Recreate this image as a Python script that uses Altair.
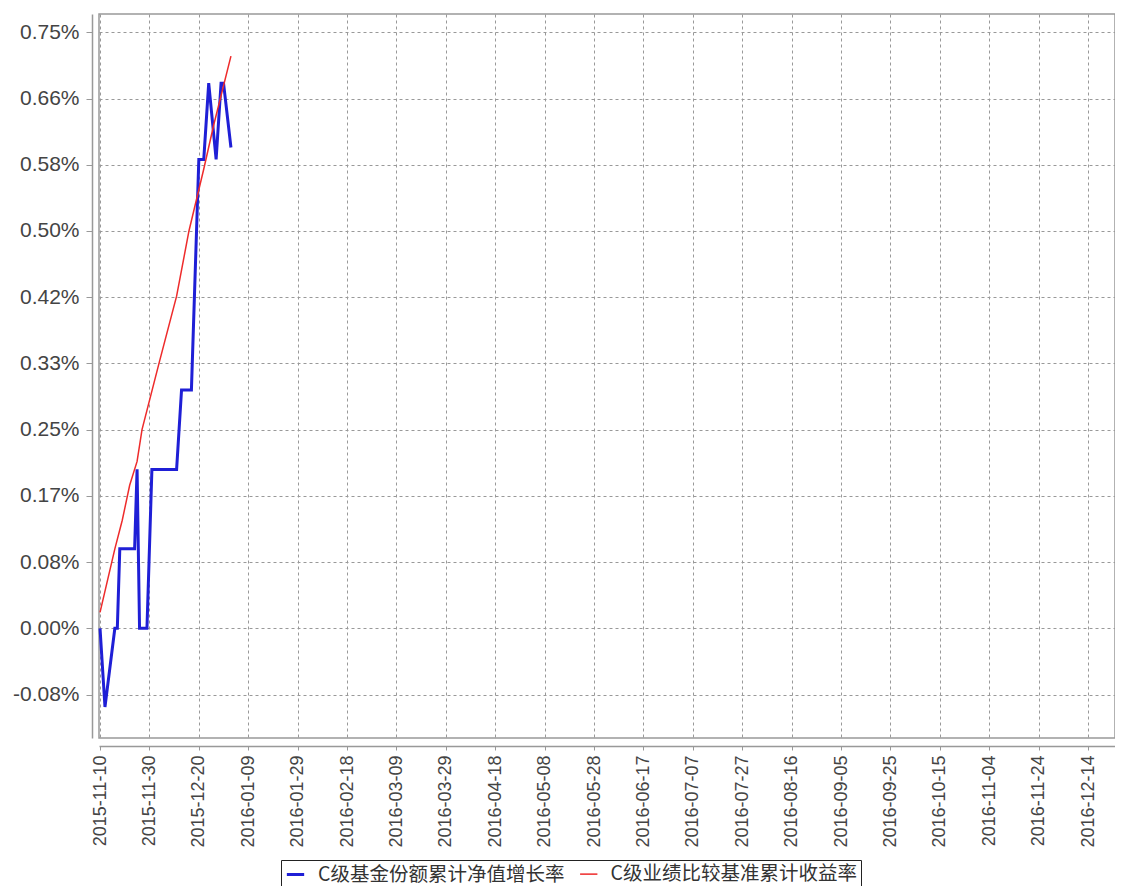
import altair as alt
import pandas as pd

# ---- data ----
series_names = ["C级基金份额累计净值增长率", "C级业绩比较基准累计收益率"]
series_colors = ["#1f1fd6", "#ee2b2b"]

blue_dates = ["2015-11-10", "2015-11-12", "2015-11-16", "2015-11-17", "2015-11-18",
              "2015-11-24", "2015-11-25", "2015-11-26", "2015-11-29", "2015-12-01",
              "2015-12-11", "2015-12-13", "2015-12-17", "2015-12-20", "2015-12-22",
              "2015-12-24", "2015-12-27", "2015-12-29", "2015-12-30", "2016-01-02"]
blue_values = [0.0, -0.099, 0.0, 0.0, 0.10,
               0.10, 0.20, 0.0, 0.0, 0.20,
               0.20, 0.30, 0.30, 0.59, 0.59,
               0.686, 0.59, 0.686, 0.686, 0.605]

red_dates = ["2015-11-10", "2015-11-16", "2015-11-19", "2015-11-22", "2015-11-25",
             "2015-11-27", "2015-12-04", "2015-12-11", "2015-12-16", "2015-12-22",
             "2015-12-26", "2016-01-02"]
red_values = [0.02, 0.10, 0.136, 0.18, 0.21,
              0.25, 0.335, 0.418, 0.50, 0.578,
              0.633, 0.72]

x_tick_labels = ["2015-11-10", "2015-11-30", "2015-12-20", "2016-01-09", "2016-01-29",
                 "2016-02-18", "2016-03-09", "2016-03-29", "2016-04-18", "2016-05-08",
                 "2016-05-28", "2016-06-17", "2016-07-07", "2016-07-27", "2016-08-16",
                 "2016-09-05", "2016-09-25", "2016-10-15", "2016-11-04", "2016-11-24",
                 "2016-12-14"]
y_tick_labels = ["-0.08%", "0.00%", "0.08%", "0.17%", "0.25%", "0.33%",
                 "0.42%", "0.50%", "0.58%", "0.66%", "0.75%"]

x_domain = ["2015-11-09T14:00:00", "2016-12-24T22:00:00"]
y_domain = [-0.138, 0.773]

# ---- build table ----
rows = [{"date": d, "value": v, "series": series_names[0]} for d, v in zip(blue_dates, blue_values)]
rows += [{"date": d, "value": v, "series": series_names[1]} for d, v in zip(red_dates, red_values)]
df = pd.DataFrame(rows)

def ms(s):
    return int(pd.Timestamp(s, tz="UTC").value // 10**6)

x_vals = [ms(s) for s in x_tick_labels]
x_dom = [ms(s) for s in x_domain]
y_vals = [(k - 1) / 12 for k in range(len(y_tick_labels))]
y_label_expr = "[" + ",".join("'%s'" % s for s in y_tick_labels) + "][round(datum.value*12)+1]"

chart = alt.Chart(df).mark_line(interpolate="linear").encode(
    x=alt.X("date:T",
            scale=alt.Scale(type="utc", domain=x_dom, nice=False),
            axis=alt.Axis(values=x_vals, labelExpr="utcFormat(datum.value, '%Y-%m-%d')",
                          labelAngle=270, labelFontSize=18, title=None, offset=8,
                          tickSize=4, labelPadding=5)),
    y=alt.Y("value:Q",
            scale=alt.Scale(domain=y_domain, nice=False, zero=False),
            axis=alt.Axis(values=y_vals, labelExpr=y_label_expr, labelFontSize=21,
                          title=None, offset=7, tickSize=6, labelPadding=7)),
    color=alt.Color("series:N",
                    scale=alt.Scale(domain=series_names, range=series_colors),
                    sort=series_names,
                    legend=alt.Legend(orient="none", legendX=182, legendY=846,
                                      direction="horizontal", title=None,
                                      symbolType="stroke", symbolSize=300,
                                      symbolStrokeWidth=2.5,
                                      labelFont="Noto Sans CJK SC", labelFontSize=19.5,
                                      labelColor="#333", columnPadding=12,
                                      labelOffset=12,
                                      strokeColor="#222", padding=4,
                                      fillColor="white", labelLimit=400)),
    strokeWidth=alt.StrokeWidth("series:N",
                                scale=alt.Scale(domain=series_names, range=[3, 1.5]),
                                legend=None),
).properties(
    width=1016, height=724,
    padding={"left": 91, "top": 6, "right": 0, "bottom": 148},
    autosize=alt.AutoSizeParams(type="none"),
).configure_view(
    stroke="#999", strokeWidth=1.5
).configure_axis(
    labelFont="Liberation Sans", labelColor="#444",
    domainColor="#999", domainWidth=1.5, tickColor="#999",
    gridColor="#999", gridDash=[3, 3], gridWidth=1,
)

chart.save("out.html", embed_options={"renderer": "svg", "actions": False})
